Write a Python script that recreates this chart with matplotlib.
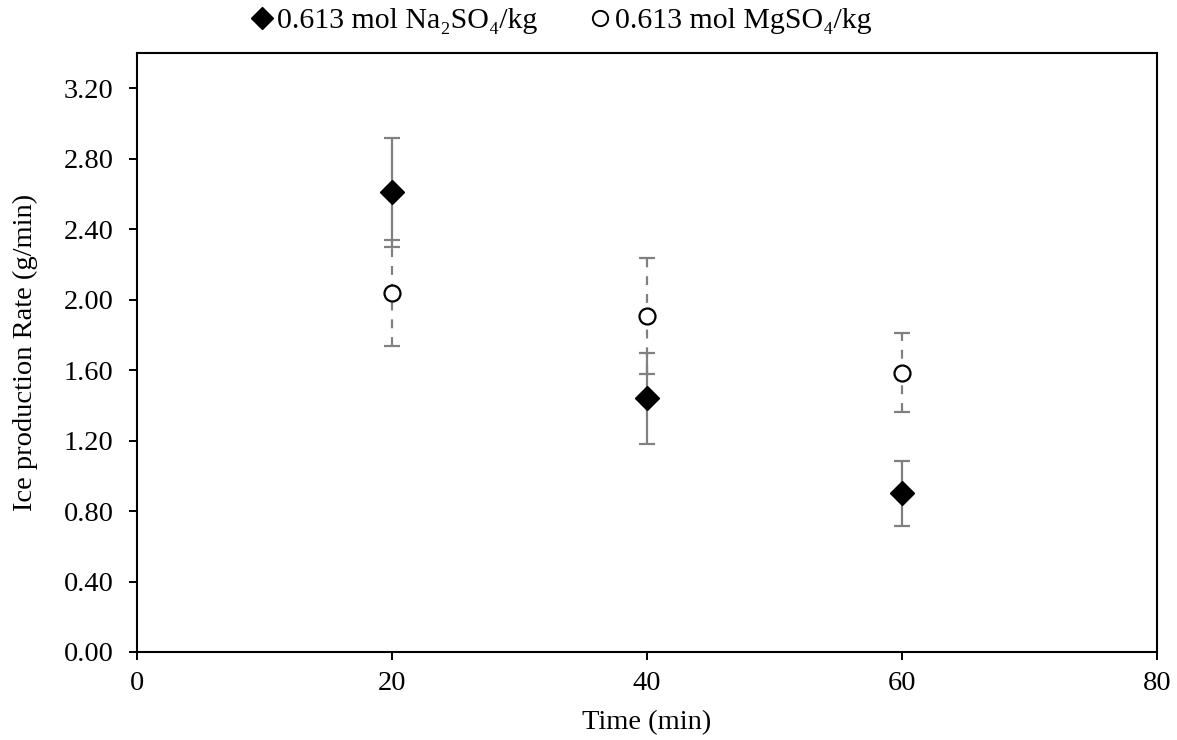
import matplotlib
matplotlib.use("Agg")
import matplotlib.pyplot as plt
from matplotlib.ticker import FormatStrFormatter

plt.rcParams['font.family'] = ['Liberation Serif', 'DejaVu Serif']

# Data
time = [20, 40, 60]
na2so4 = [2.61, 1.44, 0.90]
na2so4_err = [0.31, 0.26, 0.185]
mgso4 = [2.04, 1.91, 1.585]
mgso4_err = [0.30, 0.33, 0.225]
labels = ["0.613 mol Na\u2082SO\u2084/kg", "0.613 mol MgSO\u2084/kg"]

fs = 20.5
fig = plt.figure(figsize=(11.77, 7.40), dpi=100)
ax = fig.add_axes([0.1164, 0.119, 0.8666, 0.809])

err_color = "#808080"

# Na2SO4: solid error bars, filled diamonds
ax.errorbar(time, na2so4, yerr=na2so4_err, fmt="D", color="black",
            markersize=12, ecolor=err_color, elinewidth=1.6,
            capsize=6, capthick=1.6, label=labels[0], zorder=3)

# MgSO4: dashed error bars, open circles
eb2 = ax.errorbar(time, mgso4, yerr=mgso4_err, fmt="o", color="black",
                  markerfacecolor="white", markeredgewidth=1.6, markersize=11.5,
                  ecolor=err_color, elinewidth=1.6, capsize=6, capthick=1.6,
                  label=labels[1], zorder=3)
eb2[2][0].set_linestyle((0, (4, 4)))

ax.set_xlim(0, 80)
ax.set_ylim(0, 3.4)
ax.set_xticks([0, 20, 40, 60, 80])
ax.set_yticks([0.0, 0.4, 0.8, 1.2, 1.6, 2.0, 2.4, 2.8, 3.2])
ax.yaxis.set_major_formatter(FormatStrFormatter("%.2f"))
ax.tick_params(direction="out", length=6, width=1.4, labelsize=fs)
ax.tick_params(axis="y", pad=11)
ax.tick_params(axis="x", pad=8)
for s in ax.spines.values():
    s.set_linewidth(1.5)
    s.set_color("black")

ax.set_xlabel("Time (min)", fontsize=fs, labelpad=10)
ax.set_ylabel("Ice production Rate (g/min)", fontsize=fs, labelpad=18)

# legend handles without error bars
h1 = plt.Line2D([], [], marker="D", color="black", linestyle="none", markersize=11)
h2 = plt.Line2D([], [], marker="o", color="black", markerfacecolor="white",
                markeredgewidth=1.4, linestyle="none", markersize=11)
fig.legend([h1, h2], labels, loc="center", bbox_to_anchor=(0.475, 0.972),
           ncol=2, frameon=False, fontsize=21.5, handletextpad=0.0,
           columnspacing=1.6, handlelength=1.0)

fig.savefig("out.png", dpi=100)
